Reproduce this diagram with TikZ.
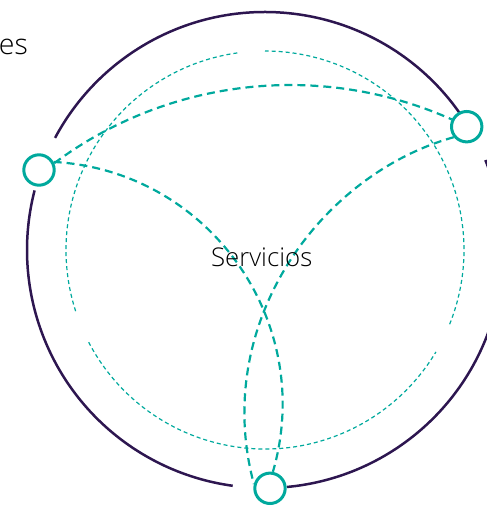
\documentclass[tikz,border=0pt]{standalone}
\usepackage{fontspec}
\setmainfont{Open Sans Light}
\usetikzlibrary{backgrounds}
\definecolor{teal1}{HTML}{00A99D}
\definecolor{purp}{HTML}{2D1650}
\begin{document}
\begin{tikzpicture}[x=1pt,y=1pt,
  nodering/.style={circle, draw=teal1, line width=3pt, fill=white, minimum size=30.4pt, inner sep=0pt},
  outerline/.style={draw=purp, line width=2.5pt},
  innerdash/.style={draw=teal1, line width=1.2pt, dash pattern=on 4pt off 3pt},
  thickdash/.style={draw=teal1, line width=2.2pt, dash pattern=on 8pt off 5pt},
  lbl/.style={font=\fontsize{25.8}{30}\selectfont, text=black, inner sep=0pt}
]
\useasboundingbox (0,0) rectangle (487,509);
\coordinate (O) at (265,259);
\node[nodering] (L) at (39,339) {};
\node[nodering] (R) at (466.7,382.3) {};
\node[nodering] (B) at (270,20.7) {};
\node[lbl, anchor=base] (S) at (261.7,242.3) {Servicios};
\node[lbl, font=\fontsize{28.5}{32}\selectfont, anchor=base east] (es) at (28,454) {es};
\begin{scope}[on background layer]
  % inner thin dashed circle
  \draw[innerdash] ([shift={(98:199pt)}]O) arc[start angle=98, end angle=198.2, radius=199pt];
  \draw[innerdash] ([shift={(207.6:199pt)}]O) arc[start angle=207.6, end angle=329.2, radius=199pt];
  \draw[innerdash] ([shift={(338.1:199pt)}]O) arc[start angle=338.1, end angle=450, radius=199pt];
  % outer circle
  \draw[outerline] ([shift={(165.5:238pt)}]O) arc[start angle=165.5, end angle=262.2, radius=238pt];
  \draw[outerline] ([shift={(275.3:238pt)}]O) arc[start angle=275.3, end angle=382.2, radius=238pt];
  \draw[outerline] ([shift={(35.3:238pt)}]O) arc[start angle=35.3, end angle=151.9, radius=238pt];
  % connectors
  \draw[thickdash] (L.24) to[out=36.7, in=156, distance=143.1pt] (R.154);
  \draw[thickdash] (L.29) to[out=-3.2, in=73.8, distance=155.9pt] (B.80);
  \draw[thickdash] (R.219) to[out=195.7, in=105, out distance=140pt, in distance=165pt] (B.165);
\end{scope}
\end{tikzpicture}
\end{document}
